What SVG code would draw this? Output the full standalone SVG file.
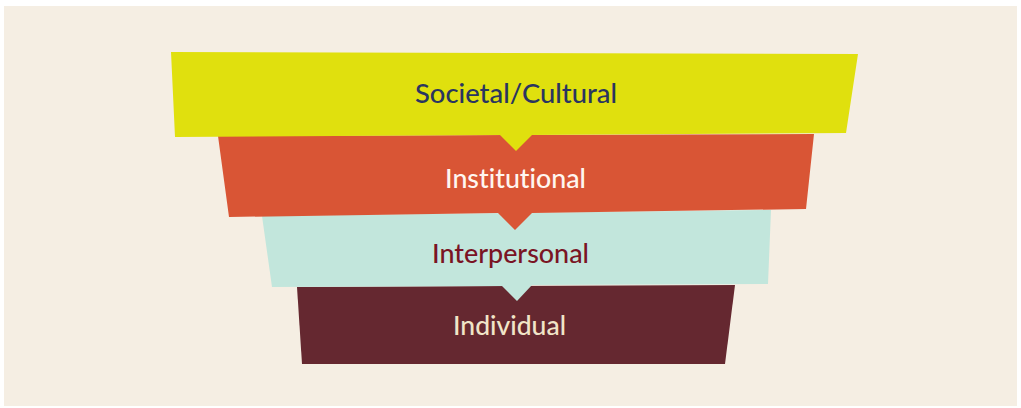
<svg xmlns="http://www.w3.org/2000/svg" width="1021" height="408" viewBox="0 0 1021 408">
  <style>
    .lbl { font-family: Lato, "Open Sans", "DejaVu Sans", sans-serif; font-size: 26px; font-weight: 500; text-anchor: middle; font-variant-ligatures: none; font-feature-settings: "liga" 0, "clig" 0; }
  </style>
  <rect x="0" y="0" width="1021" height="408" fill="#ffffff"/>
  <rect x="4" y="6" width="1013" height="400" fill="#f5eee3"/>
  <g id="individual">
    <polygon points="297,287 735,285 725,364 302,364" fill="#652830"/>
    <text class="lbl" x="509.5" y="335" fill="#f1e5c8" textLength="113" lengthAdjust="spacingAndGlyphs">Individual</text>
  </g>
  <g id="interpersonal">
    <polygon points="262,216 771,210 768,284 532,285 517,301 502,286 272,287" fill="#c2e6dc"/>
    <text class="lbl" x="510.5" y="263" fill="#7a1424" textLength="157" lengthAdjust="spacingAndGlyphs">Interpersonal</text>
  </g>
  <g id="institutional">
    <polygon points="218,136 814,134 806,209 532,213 515,230 498,213 229,217" fill="#d95535"/>
    <text class="lbl" x="515.5" y="188" fill="#fff6f0" textLength="141" lengthAdjust="spacingAndGlyphs">Institutional</text>
  </g>
  <g id="societal">
    <polygon points="171,52 858,54 846,133 532,135 516,151 500,135 175,137" fill="#e0e00e"/>
    <text class="lbl" x="516" y="103" fill="#2a3560" textLength="202" lengthAdjust="spacingAndGlyphs">Societal/Cultural</text>
  </g>
</svg>
